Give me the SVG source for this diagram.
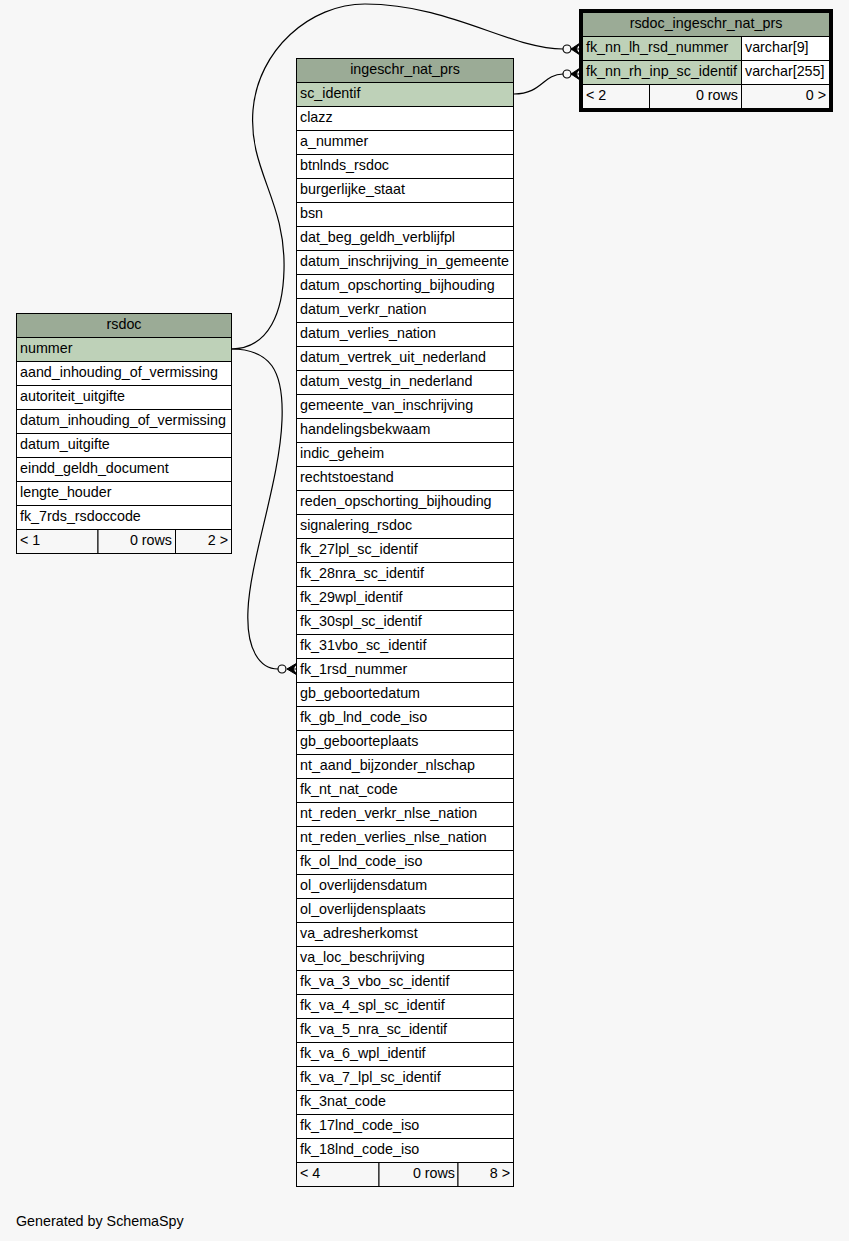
<svg xmlns="http://www.w3.org/2000/svg" width="849" height="1241" viewBox="0 0 849 1241">
  <style>
    text { font-family: "Liberation Sans", Arial, Helvetica, sans-serif; font-size: 14.3px; fill: #000; }
    .tables text { transform: translate(0px, -1px); }
    .mid { text-anchor: middle; }
    .end { text-anchor: end; }
    .hdr { fill: #9bab96; stroke: #000; stroke-width: 1; }
    .key { fill: #bed1b8; stroke: #000; stroke-width: 1; }
    .row { fill: #ffffff; stroke: #000; stroke-width: 1; }
    .foot { fill: #f7f7f7; stroke: #000; stroke-width: 1; }
    .edge { fill: none; stroke: #000; stroke-width: 1.2; }
    .dot { fill: #f7f7f7; stroke: #000; stroke-width: 1.2; }
    .crow { fill: #000; stroke: #000; stroke-width: 1; }
  </style>
  <rect x="0" y="0" width="849" height="1241" fill="#f7f7f7"/>

  <!-- relationships -->
  <g id="connectors">
    <!-- rsdoc.nummer -> rsdoc_ingeschr_nat_prs.fk_nn_lh_rsd_nummer -->
    <path class="edge" d="M231,349 C270,349 283,310 284,270 C286,200 248,170 253,110 C258,50 310,4 365,4 C450,4 510,49 563,49"/>
    <circle class="dot" cx="567" cy="49" r="4"/>
    <path class="crow" d="M580,43 L571,49 L580,55 L576,49 Z"/>
    <line x1="571" y1="49" x2="580" y2="49" stroke="#000"/>
    <!-- ingeschr_nat_prs.sc_identif -> rsdoc_ingeschr_nat_prs.fk_nn_rh_inp_sc_identif -->
    <path class="edge" d="M514,94 C542,94 543,74 563,74"/>
    <circle class="dot" cx="567" cy="74" r="4"/>
    <path class="crow" d="M580,68 L571,74 L580,80 L576,74 Z"/>
    <line x1="571" y1="74" x2="580" y2="74" stroke="#000"/>
    <!-- rsdoc.nummer -> ingeschr_nat_prs.fk_1rsd_nummer -->
    <path class="edge" d="M231,349 C270,349 284,370 282,420 C280,480 250,560 248,610 C246,650 260,669 278,669"/>
    <circle class="dot" cx="282" cy="669" r="4"/>
    <path class="crow" d="M297,663 L287,669 L297,675 L293,669 Z"/>
    <line x1="287" y1="669" x2="297" y2="669" stroke="#000"/>
  </g>

  <g class="tables">
  <!-- table rsdoc -->
  <g id="rsdoc">
    <rect class="hdr" x="16.5" y="313.5" width="215" height="24"/>
    <text class="mid" x="124" y="330">rsdoc</text>
    <rect class="key" x="16.5" y="337.5" width="215" height="24"/>
    <text x="20" y="354">nummer</text>
    <rect class="row" x="16.5" y="361.5" width="215" height="24"/>
    <text x="20" y="378">aand_inhouding_of_vermissing</text>
    <rect class="row" x="16.5" y="385.5" width="215" height="24"/>
    <text x="20" y="402">autoriteit_uitgifte</text>
    <rect class="row" x="16.5" y="409.5" width="215" height="24"/>
    <text x="20" y="426">datum_inhouding_of_vermissing</text>
    <rect class="row" x="16.5" y="433.5" width="215" height="24"/>
    <text x="20" y="450">datum_uitgifte</text>
    <rect class="row" x="16.5" y="457.5" width="215" height="24"/>
    <text x="20" y="474">eindd_geldh_document</text>
    <rect class="row" x="16.5" y="481.5" width="215" height="24"/>
    <text x="20" y="498">lengte_houder</text>
    <rect class="row" x="16.5" y="505.5" width="215" height="24"/>
    <text x="20" y="522">fk_7rds_rsdoccode</text>
    <rect class="foot" x="16.5" y="529.5" width="81.5" height="24"/>
    <rect class="foot" x="98" y="529.5" width="77.5" height="24"/>
    <rect class="foot" x="175.5" y="529.5" width="56" height="24"/>
    <text x="20" y="546">&lt; 1</text>
    <text class="end" x="172" y="546">0 rows</text>
    <text class="end" x="228" y="546">2 &gt;</text>
  </g>

  <!-- table ingeschr_nat_prs -->
  <g id="ingeschr_nat_prs">
    <rect class="hdr" x="296.5" y="58.5" width="217" height="24"/>
    <text class="mid" x="405" y="75">ingeschr_nat_prs</text>
    <rect class="key" x="296.5" y="82.5" width="217" height="24"/>
    <text x="300" y="99">sc_identif</text>
    <g>
      <rect class="row" x="296.5" y="106.5" width="217" height="24"/><text x="300" y="123">clazz</text>
      <rect class="row" x="296.5" y="130.5" width="217" height="24"/><text x="300" y="147">a_nummer</text>
      <rect class="row" x="296.5" y="154.5" width="217" height="24"/><text x="300" y="171">btnlnds_rsdoc</text>
      <rect class="row" x="296.5" y="178.5" width="217" height="24"/><text x="300" y="195">burgerlijke_staat</text>
      <rect class="row" x="296.5" y="202.5" width="217" height="24"/><text x="300" y="219">bsn</text>
      <rect class="row" x="296.5" y="226.5" width="217" height="24"/><text x="300" y="243">dat_beg_geldh_verblijfpl</text>
      <rect class="row" x="296.5" y="250.5" width="217" height="24"/><text x="300" y="267">datum_inschrijving_in_gemeente</text>
      <rect class="row" x="296.5" y="274.5" width="217" height="24"/><text x="300" y="291">datum_opschorting_bijhouding</text>
      <rect class="row" x="296.5" y="298.5" width="217" height="24"/><text x="300" y="315">datum_verkr_nation</text>
      <rect class="row" x="296.5" y="322.5" width="217" height="24"/><text x="300" y="339">datum_verlies_nation</text>
      <rect class="row" x="296.5" y="346.5" width="217" height="24"/><text x="300" y="363">datum_vertrek_uit_nederland</text>
      <rect class="row" x="296.5" y="370.5" width="217" height="24"/><text x="300" y="387">datum_vestg_in_nederland</text>
      <rect class="row" x="296.5" y="394.5" width="217" height="24"/><text x="300" y="411">gemeente_van_inschrijving</text>
      <rect class="row" x="296.5" y="418.5" width="217" height="24"/><text x="300" y="435">handelingsbekwaam</text>
      <rect class="row" x="296.5" y="442.5" width="217" height="24"/><text x="300" y="459">indic_geheim</text>
      <rect class="row" x="296.5" y="466.5" width="217" height="24"/><text x="300" y="483">rechtstoestand</text>
      <rect class="row" x="296.5" y="490.5" width="217" height="24"/><text x="300" y="507">reden_opschorting_bijhouding</text>
      <rect class="row" x="296.5" y="514.5" width="217" height="24"/><text x="300" y="531">signalering_rsdoc</text>
      <rect class="row" x="296.5" y="538.5" width="217" height="24"/><text x="300" y="555">fk_27lpl_sc_identif</text>
      <rect class="row" x="296.5" y="562.5" width="217" height="24"/><text x="300" y="579">fk_28nra_sc_identif</text>
      <rect class="row" x="296.5" y="586.5" width="217" height="24"/><text x="300" y="603">fk_29wpl_identif</text>
      <rect class="row" x="296.5" y="610.5" width="217" height="24"/><text x="300" y="627">fk_30spl_sc_identif</text>
      <rect class="row" x="296.5" y="634.5" width="217" height="24"/><text x="300" y="651">fk_31vbo_sc_identif</text>
      <rect class="row" x="296.5" y="658.5" width="217" height="24"/><text x="300" y="675">fk_1rsd_nummer</text>
      <rect class="row" x="296.5" y="682.5" width="217" height="24"/><text x="300" y="699">gb_geboortedatum</text>
      <rect class="row" x="296.5" y="706.5" width="217" height="24"/><text x="300" y="723">fk_gb_lnd_code_iso</text>
      <rect class="row" x="296.5" y="730.5" width="217" height="24"/><text x="300" y="747">gb_geboorteplaats</text>
      <rect class="row" x="296.5" y="754.5" width="217" height="24"/><text x="300" y="771">nt_aand_bijzonder_nlschap</text>
      <rect class="row" x="296.5" y="778.5" width="217" height="24"/><text x="300" y="795">fk_nt_nat_code</text>
      <rect class="row" x="296.5" y="802.5" width="217" height="24"/><text x="300" y="819">nt_reden_verkr_nlse_nation</text>
      <rect class="row" x="296.5" y="826.5" width="217" height="24"/><text x="300" y="843">nt_reden_verlies_nlse_nation</text>
      <rect class="row" x="296.5" y="850.5" width="217" height="24"/><text x="300" y="867">fk_ol_lnd_code_iso</text>
      <rect class="row" x="296.5" y="874.5" width="217" height="24"/><text x="300" y="891">ol_overlijdensdatum</text>
      <rect class="row" x="296.5" y="898.5" width="217" height="24"/><text x="300" y="915">ol_overlijdensplaats</text>
      <rect class="row" x="296.5" y="922.5" width="217" height="24"/><text x="300" y="939">va_adresherkomst</text>
      <rect class="row" x="296.5" y="946.5" width="217" height="24"/><text x="300" y="963">va_loc_beschrijving</text>
      <rect class="row" x="296.5" y="970.5" width="217" height="24"/><text x="300" y="987">fk_va_3_vbo_sc_identif</text>
      <rect class="row" x="296.5" y="994.5" width="217" height="24"/><text x="300" y="1011">fk_va_4_spl_sc_identif</text>
      <rect class="row" x="296.5" y="1018.5" width="217" height="24"/><text x="300" y="1035">fk_va_5_nra_sc_identif</text>
      <rect class="row" x="296.5" y="1042.5" width="217" height="24"/><text x="300" y="1059">fk_va_6_wpl_identif</text>
      <rect class="row" x="296.5" y="1066.5" width="217" height="24"/><text x="300" y="1083">fk_va_7_lpl_sc_identif</text>
      <rect class="row" x="296.5" y="1090.5" width="217" height="24"/><text x="300" y="1107">fk_3nat_code</text>
      <rect class="row" x="296.5" y="1114.5" width="217" height="24"/><text x="300" y="1131">fk_17lnd_code_iso</text>
      <rect class="row" x="296.5" y="1138.5" width="217" height="24"/><text x="300" y="1155">fk_18lnd_code_iso</text>
    </g>
    <rect class="foot" x="296.5" y="1162.5" width="82.5" height="24"/>
    <rect class="foot" x="379" y="1162.5" width="79" height="24"/>
    <rect class="foot" x="458" y="1162.5" width="55.5" height="24"/>
    <text x="300" y="1179">&lt; 4</text>
    <text class="end" x="455" y="1179">0 rows</text>
    <text class="end" x="510" y="1179">8 &gt;</text>
  </g>

  <!-- table rsdoc_ingeschr_nat_prs (focused, heavy frame) -->
  <g id="rsdoc_ingeschr_nat_prs">
    <rect class="hdr" x="582.5" y="12.5" width="247" height="24"/>
    <text class="mid" x="706" y="29">rsdoc_ingeschr_nat_prs</text>
    <rect class="key" x="582.5" y="36.5" width="159" height="24"/>
    <text x="586" y="53">fk_nn_lh_rsd_nummer</text>
    <rect class="row" x="741.5" y="36.5" width="88" height="24"/>
    <text x="745" y="53">varchar[9]</text>
    <rect class="key" x="582.5" y="60.5" width="159" height="24"/>
    <text x="586" y="77">fk_nn_rh_inp_sc_identif</text>
    <rect class="row" x="741.5" y="60.5" width="88" height="24"/>
    <text x="745" y="77">varchar[255]</text>
    <rect class="foot" x="582.5" y="84.5" width="67" height="24"/>
    <rect class="foot" x="649.5" y="84.5" width="92" height="24"/>
    <rect class="foot" x="741.5" y="84.5" width="88" height="24"/>
    <text x="586" y="101">&lt; 2</text>
    <text class="end" x="738" y="101">0 rows</text>
    <text class="end" x="826" y="101">0 &gt;</text>
    <rect x="580.5" y="10.5" width="251" height="100" fill="none" stroke="#000" stroke-width="3"/>
  </g>
  </g>

  <text x="16" y="1226">Generated by SchemaSpy</text>
</svg>
